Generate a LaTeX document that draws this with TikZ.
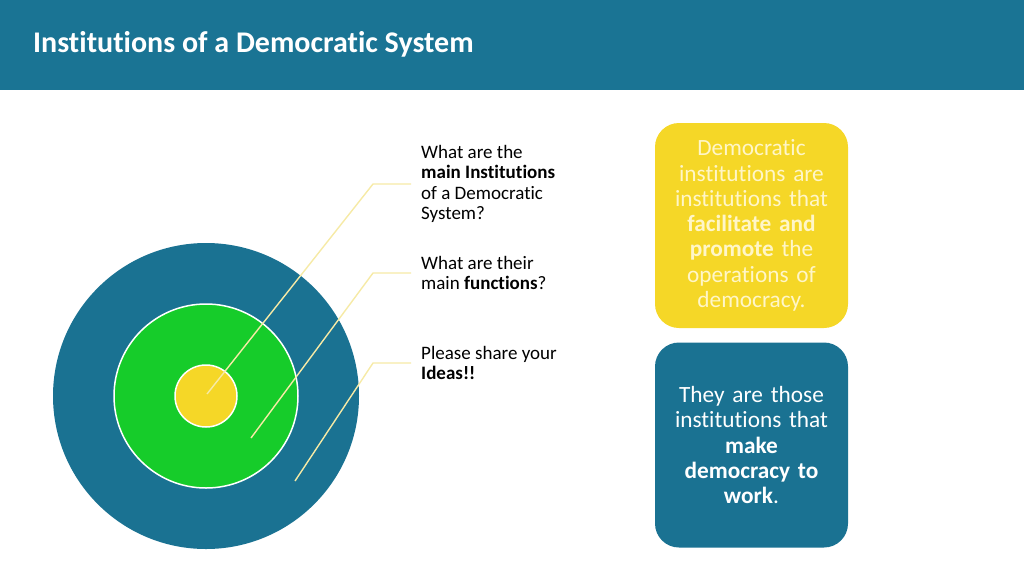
\documentclass[tikz,border=0pt]{standalone}
\usepackage{fontspec}
\setmainfont{Carlito}[Ligatures=NoCommon]
\usetikzlibrary{positioning}

\definecolor{bandblue}{HTML}{1A7494}
\definecolor{ringblue}{HTML}{1A7292}
\definecolor{ringgreen}{HTML}{16CC2A}
\definecolor{coreyellow}{HTML}{F5D727}
\definecolor{leadyellow}{HTML}{F6EAA6}
\definecolor{paleyellow}{HTML}{FFF6C8}

\tikzset{
  ring/.style={circle,inner sep=0pt,draw=white,line width=1.5pt},
  lead/.style={draw=leadyellow,line width=1.4pt},
  question/.style={inner xsep=10pt,inner ysep=0pt,align=left,font=\fontsize{19}{20.5}\selectfont},
  infobox/.style={rounded corners=24pt,inner xsep=0pt,minimum width=193pt,minimum height=205pt,text width=186pt,align=center,font=\fontsize{23.3}{25.3}\selectfont}
}

\begin{document}
\begin{tikzpicture}[x=1pt,y=-1pt]
\useasboundingbox (0,0) rectangle (1024,576);

% header band
\fill[bandblue] (0,0) rectangle (1024,90);
\node[anchor=west,text=white,font=\fontsize{30}{32}\selectfont\bfseries,inner sep=0pt] (title) at (33,44) {Institutions of a Democratic System};

% target
\node[ring,draw=none,fill=ringblue,minimum size=306pt] (outer) at (206,396) {};
\node[ring,fill=ringgreen,minimum size=184pt] (middle) at (206,396) {};
\node[ring,fill=coreyellow,minimum size=62pt] (inner) at (206,396) {};

\coordinate (s1) at (207,394);
\coordinate (s2) at (251,438);
\coordinate (s3) at (295,481);

% questions
\node[question,anchor=west] (q1) at (411,184) {What are the\\\textbf{main Institutions}\\of a Democratic\\System?};
\node[question,anchor=west] (q2) at (411,273) {What are their\\main \textbf{functions}?};
\node[question,anchor=west] (q3) at (411,363) {Please share your\\\textbf{Ideas!!}};

\draw[lead] (s1) -- ([xshift=-38pt]q1.west) -- (q1.west);
\draw[lead] (s2) -- ([xshift=-38pt]q2.west) -- (q2.west);
\draw[lead] (s3) -- ([xshift=-38pt]q3.west) -- (q3.west);

% definition boxes
\node[infobox,fill=coreyellow,text=paleyellow] (def) at (751.5,225.5) {Democratic\\institutions are\\institutions that\\\textbf{facilitate and}\\\textbf{promote} the\\operations of\\democracy.};
\node[infobox,fill=ringblue,text=white] (role) at (751.5,445) {They are those\\institutions that\\\textbf{make}\\\textbf{democracy to}\\\textbf{work}.};
\end{tikzpicture}
\end{document}
